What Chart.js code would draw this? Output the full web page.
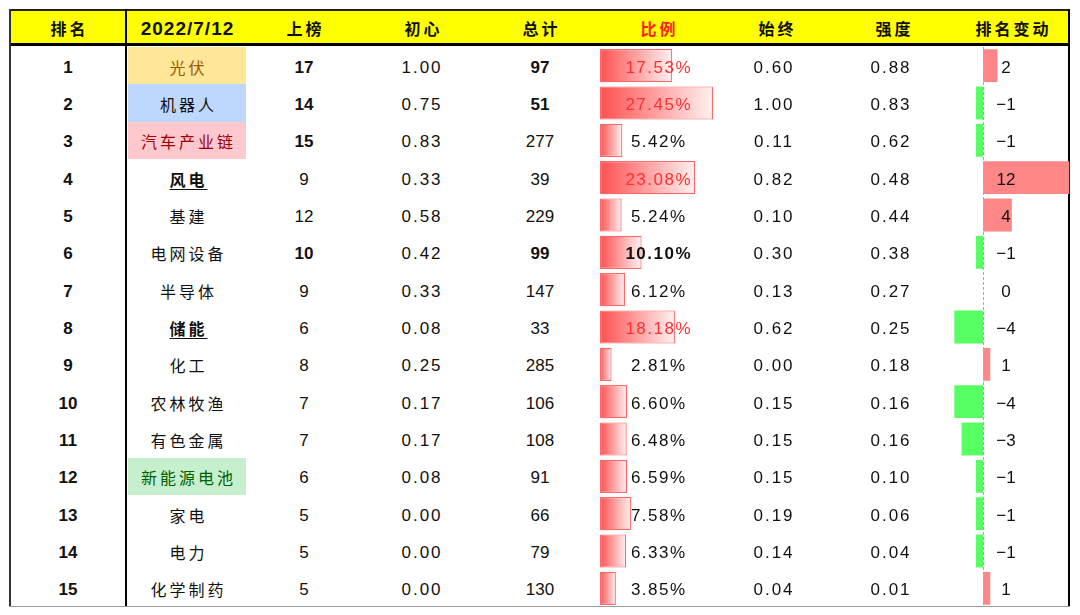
<!DOCTYPE html>
<html>
<head>
<meta charset="utf-8">
<script src="https://cdn.jsdelivr.net/npm/chart.js"></script>
<style>
  html, body { margin: 0; padding: 0; background: #fff; }
  #wrap { position: relative; width: 1080px; height: 615px; overflow: hidden;
          font-family: "Liberation Sans", Arial, sans-serif; }
  .line { position: absolute; }
  .cell { position: absolute; transform: translate(-50%, -50%); white-space: nowrap;
          font-size: 17px; line-height: 1; color: #111; z-index: 5; }
  .zh { font-family: "Noto Sans CJK SC", sans-serif; font-size: 16px; letter-spacing: 3px; padding-left: 3px; }
  .num { letter-spacing: 2px; padding-left: 2px; }
  .b { font-weight: bold; }
  canvas { position: absolute; z-index: 2; }
</style>
</head>
<body>
<div id="wrap">
  <canvas id="ratioChart" width="170" height="560" style="left:599px;top:47px;"></canvas>
  <canvas id="moveChart" width="130" height="560" style="left:940px;top:47px;"></canvas>
</div>
<script>
// table data
const headers = ['排名', '2022/7/12', '上榜', '初心', '总计', '比例', '始终', '强度', '排名变动'];
const ranks = [1, 2, 3, 4, 5, 6, 7, 8, 9, 10, 11, 12, 13, 14, 15];
const sectors = ['光伏', '机器人', '汽车产业链', '风电', '基建', '电网设备', '半导体', '储能',
                 '化工', '农林牧渔', '有色金属', '新能源电池', '家电', '电力', '化学制药'];
const listed = [17, 14, 15, 9, 12, 10, 9, 6, 8, 7, 7, 6, 5, 5, 5];
const chuxin = ['1.00', '0.75', '0.83', '0.33', '0.58', '0.42', '0.33', '0.08', '0.25', '0.17', '0.17', '0.08', '0.00', '0.00', '0.00'];
const totals = [97, 51, 277, 39, 229, 99, 147, 33, 285, 106, 108, 91, 66, 79, 130];
const ratios = [17.53, 27.45, 5.42, 23.08, 5.24, 10.10, 6.12, 18.18, 2.81, 6.60, 6.48, 6.59, 7.58, 6.33, 3.85];
const shizhong = ['0.60', '1.00', '0.11', '0.82', '0.10', '0.30', '0.13', '0.62', '0.00', '0.15', '0.15', '0.15', '0.19', '0.14', '0.04'];
const qiangdu = ['0.88', '0.83', '0.62', '0.48', '0.44', '0.38', '0.27', '0.25', '0.18', '0.16', '0.16', '0.10', '0.06', '0.04', '0.01'];
const rankMoves = [2, -1, -1, 12, 4, -1, 0, -4, 1, -4, -3, -1, -1, -1, 1];

// styling taken from the sheet's formatting
const sectorFill = { 0: ['#FFE699', '#9C5700'], 1: ['#BDD7FF', '#111'], 2: ['#FFC7CE', '#9C0006'], 11: ['#C6EFCE', '#006100'] };
const sectorUnderline = [3, 7];
const boldListed = [0, 1, 2, 5];
const boldTotals = [0, 1, 5];
const redRatios = [0, 1, 3, 7];
const boldRatios = [5];

const wrap = document.getElementById('wrap');
const TOP = 9, HEAD_BOTTOM = 47, BOTTOM = 607, LEFT = 9, RIGHT = 1070;
const rowH = (BOTTOM - HEAD_BOTTOM) / ranks.length;
const colX = [68, 187, 304, 421, 540, 658, 773, 890, 1006];
const headX = [68, 187, 304, 422, 540, 658, 776, 893, 1012];

function box(x, y, w, h, color) {
  const d = document.createElement('div');
  d.className = 'line';
  d.style.cssText = `left:${x}px;top:${y}px;width:${w}px;height:${h}px;background:${color};`;
  wrap.appendChild(d);
  return d;
}

function text(str, x, y, cls, style) {
  const d = document.createElement('div');
  d.className = 'cell ' + (cls || '');
  d.textContent = str;
  d.style.left = x + 'px';
  d.style.top = y + 'px';
  if (style) Object.assign(d.style, style);
  wrap.appendChild(d);
  return d;
}

// header band and grid lines
box(LEFT, TOP + 1, RIGHT - LEFT, HEAD_BOTTOM - TOP - 4, '#FFFF00');
box(LEFT, TOP, RIGHT - LEFT, 1.5, '#222');
box(LEFT, HEAD_BOTTOM - 4, RIGHT - LEFT, 3, '#000');
box(LEFT, TOP, 1.5, BOTTOM - TOP, '#333');
box(125, TOP, 2.2, BOTTOM - TOP, '#000');
box(RIGHT - 2, TOP, 2, BOTTOM - TOP, '#000');
box(LEFT, BOTTOM - 1, RIGHT - LEFT, 1, '#9a9a9a');

// coloured sector cells
Object.keys(sectorFill).forEach(i => {
  box(128, HEAD_BOTTOM + i * rowH, 118, rowH, sectorFill[i][0]);
});

// header texts
const headY = (TOP + HEAD_BOTTOM - 3) / 2 + 1;
headers.forEach((h, i) => {
  if (i === 1) {
    text(h, headX[i], headY, 'b', { fontSize: '19px', letterSpacing: '1px', paddingLeft: '1px' });
  } else {
    text(h, headX[i], headY, 'zh b', { color: i === 5 ? '#FF2020' : '#111', fontSize: '16px' });
  }
});

// body texts
ranks.forEach((r, i) => {
  const y = HEAD_BOTTOM + (i + 0.5) * rowH + 1;
  text(String(r), colX[0], y, 'b');
  const s = text(sectors[i], colX[1], y, 'zh');
  if (sectorFill[i]) s.style.color = sectorFill[i][1];
  if (sectorUnderline.includes(i)) {
    s.classList.add('b');
    s.style.textDecoration = 'underline';
    s.style.textUnderlineOffset = '3px';
  }
  text(String(listed[i]), colX[2], y, boldListed.includes(i) ? 'b' : '');
  text(chuxin[i], colX[3], y, 'num');
  text(String(totals[i]), colX[4], y, boldTotals.includes(i) ? 'b' : '');
  const p = text(ratios[i].toFixed(2) + '%', colX[5], y, 'num', { letterSpacing: '1.5px', paddingLeft: '1.5px' });
  if (redRatios.includes(i)) p.style.color = '#FF3030';
  if (boldRatios.includes(i)) p.classList.add('b');
  text(shizhong[i], colX[6], y, 'num');
  text(qiangdu[i], colX[7], y, 'num');
  text(rankMoves[i] < 0 ? '−' + Math.abs(rankMoves[i]) : String(rankMoves[i]), colX[8], y, '');
});

// red gradient data bars in the 比例 column
function ratioGradient(c) {
  const chart = c.chart;
  if (!chart.chartArea) return '#FF5A5A';
  const x = chart.scales.x;
  const x0 = x.getPixelForValue(0);
  const x1 = x.getPixelForValue(c.raw);
  const g = chart.ctx.createLinearGradient(x0, 0, x1, 0);
  g.addColorStop(0, '#FF5050');
  g.addColorStop(1, '#FFF2F2');
  return g;
}

new Chart(document.getElementById('ratioChart'), {
  type: 'bar',
  data: {
    labels: sectors,
    datasets: [{
      data: ratios,
      backgroundColor: ratioGradient,
      borderColor: '#FF6868',
      borderWidth: 1.2,
      borderSkipped: false,
      barPercentage: 0.89,
      categoryPercentage: 1
    }]
  },
  options: {
    indexAxis: 'y',
    responsive: false,
    animation: false,
    layout: { padding: { left: 1, right: 0, top: 0, bottom: 0 } },
    plugins: { legend: { display: false }, tooltip: { enabled: false } },
    scales: {
      x: { display: false, min: 0, max: 41 },
      y: { display: false }
    }
  }
});

// dashed zero line for the rank change bars
const zeroLine = {
  id: 'zeroLine',
  beforeDatasetsDraw(chart) {
    const { ctx, chartArea } = chart;
    const x0 = Math.round(chart.scales.x.getPixelForValue(0)) + 0.5;
    ctx.save();
    ctx.strokeStyle = '#a8a8a8';
    ctx.lineWidth = 1;
    ctx.setLineDash([3, 2]);
    ctx.beginPath();
    ctx.moveTo(x0, chartArea.top);
    ctx.lineTo(x0, chartArea.bottom);
    ctx.stroke();
    ctx.restore();
  }
};

new Chart(document.getElementById('moveChart'), {
  type: 'bar',
  data: {
    labels: sectors,
    datasets: [{
      data: rankMoves,
      backgroundColor: rankMoves.map(v => v < 0 ? '#58FF62' : '#FF8686'),
      borderWidth: 0,
      barPercentage: 0.88,
      categoryPercentage: 1
    }]
  },
  options: {
    indexAxis: 'y',
    responsive: false,
    animation: false,
    layout: { padding: 0 },
    plugins: { legend: { display: false }, tooltip: { enabled: false } },
    scales: {
      x: { display: false, min: -6, max: 12.1 },
      y: { display: false }
    }
  },
  plugins: [zeroLine]
});
</script>
</body>
</html>
